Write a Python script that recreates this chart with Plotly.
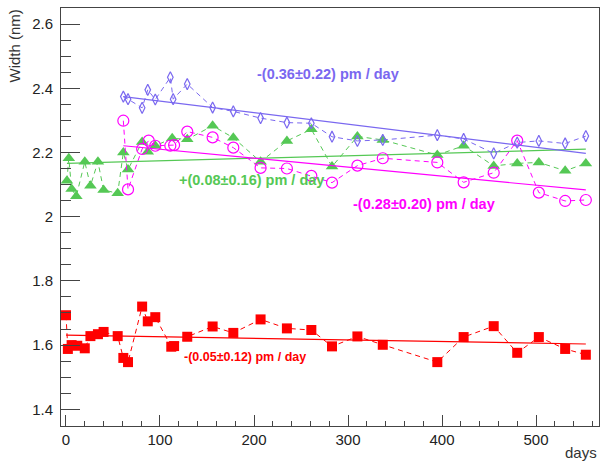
import plotly.graph_objects as go

# ---- data ----
red_days = [0, 2, 6, 12, 20, 26, 34, 40, 55, 61, 66, 81, 87, 95, 112, 115, 129, 156, 178, 207, 235,
            261, 283, 310, 337, 395, 423, 455, 480, 503, 531, 553]
red_vals = [1.693, 1.588, 1.600, 1.598, 1.590, 1.628, 1.634, 1.641, 1.628, 1.560, 1.547, 1.720, 1.674,
            1.687, 1.595, 1.597, 1.626, 1.658, 1.638, 1.680, 1.652, 1.647, 1.596, 1.627, 1.601, 1.547,
            1.625, 1.659, 1.576, 1.625, 1.588, 1.570]

green_days = [1, 3, 6, 11, 20, 26, 34, 40, 55, 61, 66, 81, 87, 95, 113, 129, 156, 178, 207, 235,
              261, 283, 310, 337, 395, 423, 455, 480, 503, 531, 553]
green_vals = [2.112, 2.182, 2.086, 2.064, 2.171, 2.096, 2.171, 2.083, 2.073, 2.200, 2.147, 2.233,
              2.202, 2.221, 2.244, 2.241, 2.283, 2.246, 2.171, 2.236, 2.272, 2.156, 2.250, 2.239,
              2.192, 2.221, 2.158, 2.166, 2.169, 2.143, 2.166]

magenta_days = [61, 66, 81, 88, 95, 111, 115, 129, 156, 178, 207, 235, 261, 283, 310, 337, 395,
                423, 455, 480, 503, 531, 553]
magenta_vals = [2.299, 2.085, 2.211, 2.237, 2.221, 2.221, 2.223, 2.265, 2.247, 2.215, 2.152, 2.150,
                2.127, 2.106, 2.159, 2.182, 2.169, 2.107, 2.137, 2.237, 2.075, 2.049, 2.052]

blue_days = [61, 66, 81, 87, 95, 111, 114, 129, 156, 178, 207, 235, 261, 283, 310, 337, 395, 423,
             455, 480, 503, 531, 553]
blue_vals = [2.374, 2.366, 2.339, 2.395, 2.365, 2.434, 2.366, 2.413, 2.340, 2.328, 2.307, 2.293,
             2.291, 2.249, 2.236, 2.239, 2.254, 2.242, 2.197, 2.231, 2.236, 2.228, 2.251]

# linear fits: value at first day, slope in pm/day
fit_start = {"red": 1.631, "green": 2.166, "magenta": 2.221, "blue": 2.374}
fit_slope_pm = {"red": -0.05, "green": 0.08, "magenta": -0.28, "blue": -0.36}
fit_labels = {"red": "-(0.05\u00b10.12) pm / day", "green": "+(0.08\u00b10.16) pm / day",
              "magenta": "-(0.28\u00b10.20) pm / day", "blue": "-(0.36\u00b10.22) pm / day"}

y_ticks = [1.4, 1.6, 1.8, 2.0, 2.2, 2.4, 2.6]
y_ticktext = ["1.4", "1.6", "1.8", "2", "2.2", "2.4", "2.6"]
x_ticks = [0, 100, 200, 300, 400, 500]

RED = "#ff0000"
GREEN = "#55c855"
MAG = "#ff00ff"
BLUE = "#7a68f0"

series = [
    ("red", red_days, red_vals, RED, dict(symbol="square", size=10, color=RED)),
    ("green", green_days, green_vals, GREEN, dict(symbol="triangle-up", size=11, color=GREEN)),
    ("magenta", magenta_days, magenta_vals, MAG,
     dict(symbol="circle-open", size=11, color=MAG, line=dict(width=1.2, color=MAG))),
    ("blue", blue_days, blue_vals, BLUE,
     dict(symbol="diamond-tall-open", size=8, color=BLUE, line=dict(width=1.2, color=BLUE))),
]

fig = go.Figure()
for name, d, v, col, mk in series:
    fig.add_trace(go.Scatter(x=d, y=v, mode="lines+markers", marker=mk,
                             line=dict(color=col, width=1, dash="5px,4px"),
                             showlegend=False, name=name))
    x0, x1 = min(d), max(d)
    s = fit_slope_pm[name] * 1e-3
    y0 = fit_start[name]
    fig.add_trace(go.Scatter(x=[x0, x1], y=[y0, y0 + s * (x1 - x0)], mode="lines",
                             line=dict(color=col, width=1.2), showlegend=False,
                             hoverinfo="skip"))

label_pos = {"red": (190, 1.563), "green": (197, 2.114), "magenta": (381, 2.039), "blue": (279, 2.444)}
label_size = {"red": 12.5, "green": 14.5, "magenta": 14.5, "blue": 14.5}
label_col = {"red": RED, "green": GREEN, "magenta": MAG, "blue": BLUE}
for k, (lx, ly) in label_pos.items():
    fig.add_annotation(x=lx, y=ly, xref="x", yref="y", text="<b>" + fit_labels[k] + "</b>",
                       showarrow=False, font=dict(family="Liberation Sans, Arial", size=label_size[k],
                                                  color=label_col[k]))

fig.add_annotation(x=0, y=1, xref="paper", yref="paper", xshift=-47,
                   text="Width (nm)", textangle=-90, showarrow=False,
                   xanchor="center", yanchor="top",
                   font=dict(family="Liberation Sans, Arial", size=15, color="#333"))
fig.add_annotation(x=1, y=0, xref="paper", yref="paper", yshift=-16,
                   text="days", showarrow=False, xanchor="right", yanchor="top",
                   font=dict(family="Liberation Sans, Arial", size=15, color="#333"))

axis_common = dict(showline=True, linecolor="#444", linewidth=1, mirror=True, showgrid=False,
                   zeroline=False, ticks="inside", tickcolor="#444", tickwidth=1,
                   tickfont=dict(family="Liberation Sans, Arial", size=15, color="#222"))

fig.update_xaxes(range=[-5.3, 567], tickvals=x_ticks, ticklen=11,
                 minor=dict(dtick=20, ticks="inside", ticklen=5, tickcolor="#444"), **axis_common)
fig.update_yaxes(range=[1.348, 2.65], tickvals=y_ticks, ticktext=y_ticktext, ticklen=19,
                 ticklabelstandoff=4,
                 minor=dict(dtick=0.05, ticks="inside", ticklen=10, tickcolor="#444"), **axis_common)

fig.update_layout(width=601, height=461, margin=dict(l=61, r=2, t=8, b=35),
                  plot_bgcolor="white", paper_bgcolor="white",
                  font=dict(family="Liberation Sans, Arial"))

fig.write_html("out.html", config={"displayModeBar": False},
               post_script="document.body.style.margin='0';document.body.style.overflow='hidden';")
